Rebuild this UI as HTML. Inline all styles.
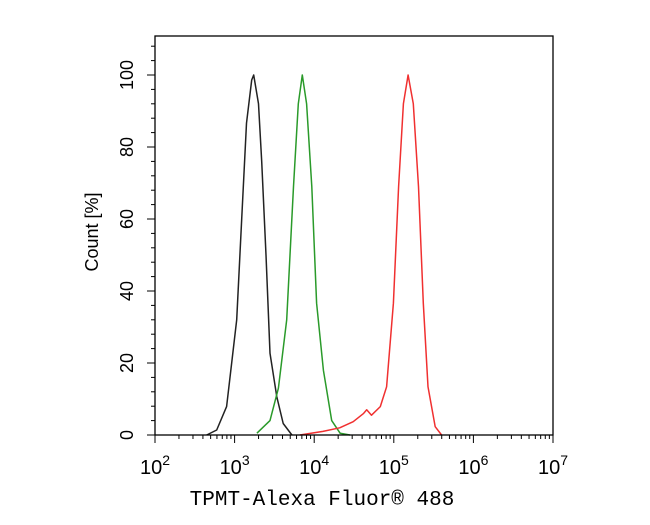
<!DOCTYPE html>
<html><head><meta charset="utf-8"><style>
body{margin:0;background:#fff;}
svg text{font-family:"Liberation Sans",sans-serif;}
</style></head><body>
<svg id="chart" width="650" height="520" viewBox="0 0 650 520" xmlns="http://www.w3.org/2000/svg">
<g id="axes"></g>
<g id="series"></g>
<rect x="155" y="36" width="398" height="399" fill="none" stroke="#000" stroke-width="1.3"/>
<text transform="translate(98,232) rotate(-90)" text-anchor="middle" font-size="18" fill="#000">Count [%]</text>
<text x="322" y="505" text-anchor="middle" font-size="21" fill="#000" style="font-family:'Liberation Mono',monospace">TPMT-Alexa Fluor® 488</text>
</svg>
<script>
const xDecades=[2,3,4,5,6,7];
const yTicks=[0,20,40,60,80,100];
const blackX=[2.65,2.775,2.9,3.026,3.089,3.15,3.215,3.24,3.30,3.34,3.395,3.445,3.53,3.61,3.72];
const blackY=[0,1.4,7.9,32,60,86.6,98.6,100,92,76,50,22.7,10.6,3.2,0];
const greenX=[3.28,3.445,3.55,3.655,3.74,3.80,3.85,3.905,3.97,4.03,4.115,4.22,4.325,4.45];
const greenY=[0.5,4,13,32,69,92,100,92,69,36.6,18,4,0.5,0];
const redX=[3.82,4.11,4.32,4.49,4.62,4.66,4.72,4.83,4.91,4.995,5.06,5.12,5.18,5.245,5.31,5.37,5.43,5.52,5.6];
const redY=[0,1,2,3.7,6,7,5.5,7.9,13.4,36.6,69,92,100,92,69,36.6,13.4,2.3,0];
const X0=155,X1=553,Y0=435,YTOP=36;
const xs=v=>X0+(v-2)/5*(X1-X0);
const ys=v=>Y0-v*3.6;
const NS="http://www.w3.org/2000/svg";
const axes=document.getElementById('axes');
function mk(tag,attrs,parent){const e=document.createElementNS(NS,tag);for(const k in attrs)e.setAttribute(k,attrs[k]);parent.appendChild(e);return e;}
for(let v=0;v<=108;v+=4){
  const major=v%20===0;
  const t=mk('line',{x1:X0-(major?8:4),x2:X0,y1:ys(v),y2:ys(v),stroke:'#000','stroke-width':1},axes);
  
  
}
yTicks.forEach(v=>{
  const t=mk('text',{transform:`translate(${133},${ys(v)}) rotate(-90)`,'text-anchor':'middle','font-size':18,fill:'#000'},axes);
  t.textContent=v;
  
  
});
xDecades.forEach((d,i)=>{
  const t=mk('line',{x1:xs(d),x2:xs(d),y1:Y0,y2:Y0+8,stroke:'#000','stroke-width':1},axes);
  
  
  if(i<xDecades.length-1){
    for(let m=2;m<=9;m++){
      const lt=mk('line',{x1:xs(d+Math.log10(m)),x2:xs(d+Math.log10(m)),y1:Y0,y2:Y0+4,stroke:'#000','stroke-width':1},axes);
      
      
    }
  }
  const lb=mk('text',{x:xs(d),y:474,'text-anchor':'middle','font-size':20,fill:'#000'},axes);
  lb.innerHTML=`10<tspan font-size="14" dy="-9">${d}</tspan>`;
  
  
});
const series=document.getElementById('series');
[[blackX,blackY,'#222','isotype-control-curve'],[greenX,greenY,'#2a9a2a','unstained-curve'],[redX,redY,'#f03030','tpmt-stained-curve']].forEach(([X,Y,c,n])=>{
  const d=X.map((x,i)=>(i?'L':'M')+xs(x).toFixed(1)+','+ys(Y[i]).toFixed(1)).join(' ');
  const p=mk('path',{d:d,fill:'none',stroke:c,'stroke-width':1.5,'stroke-linejoin':'round'},series);
  
  
});
</script>
</body></html>
